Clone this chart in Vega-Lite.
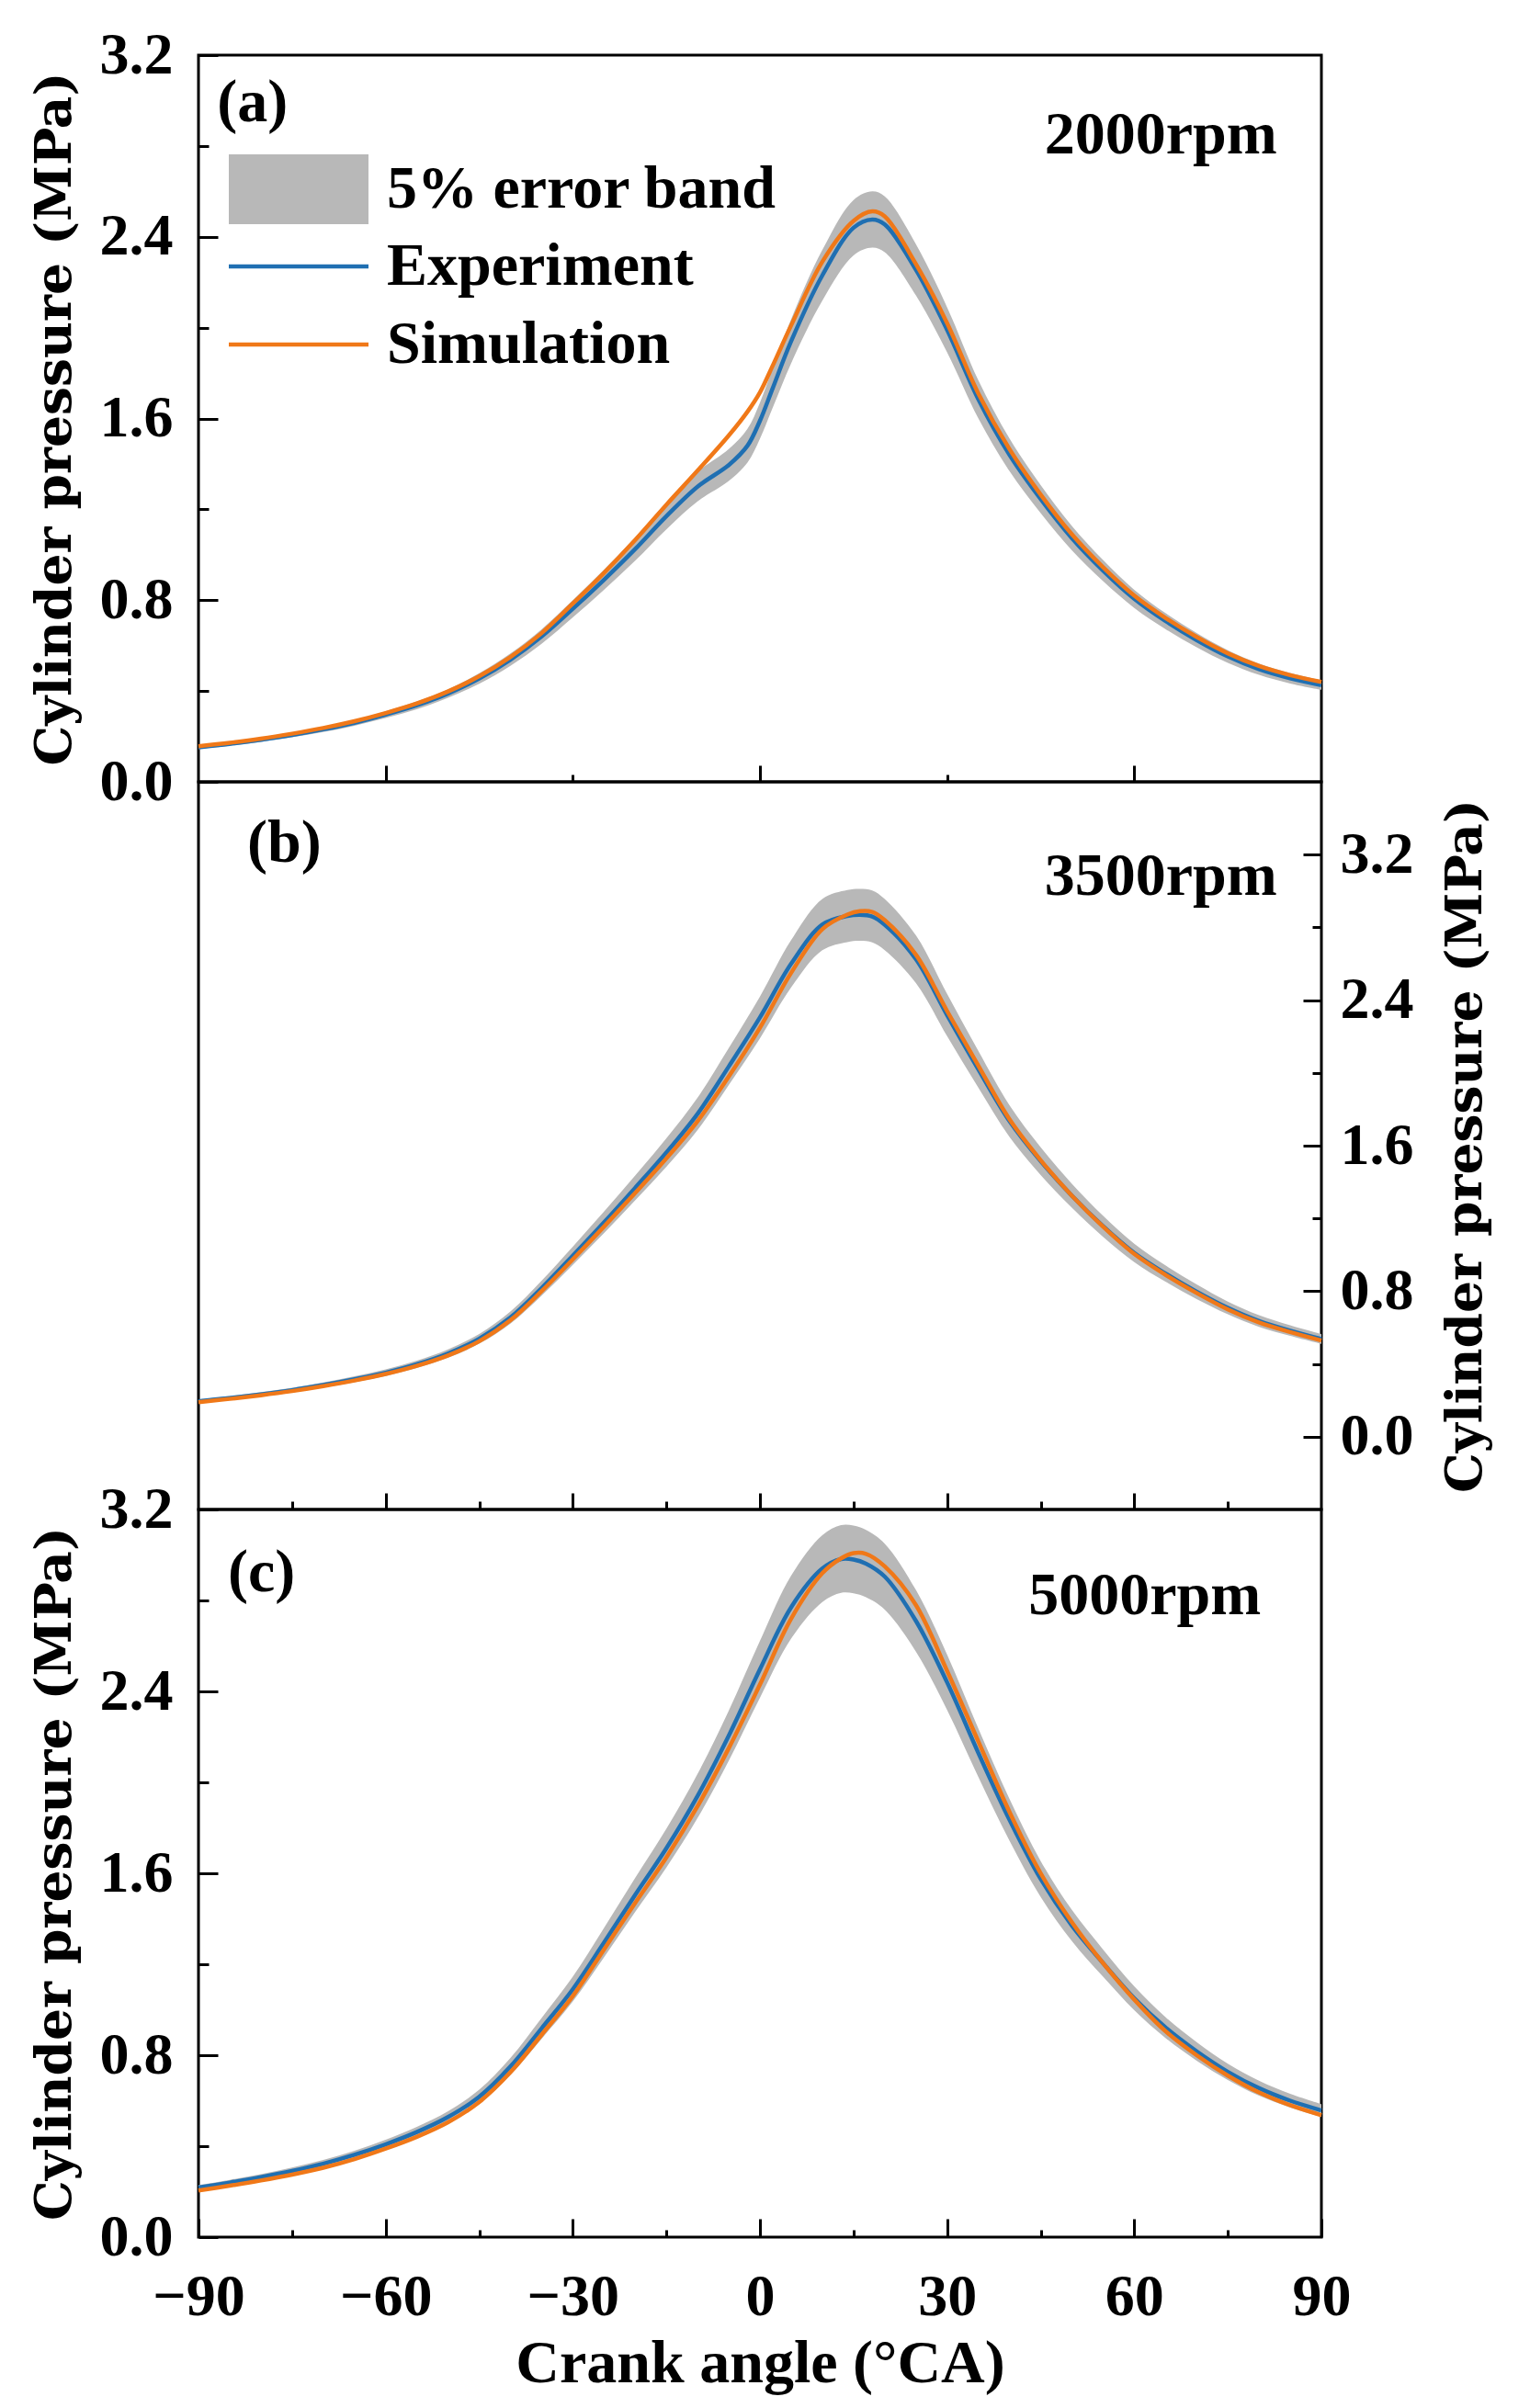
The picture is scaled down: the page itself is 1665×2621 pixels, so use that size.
{
  "$schema": "https://vega.github.io/schema/vega-lite/v6.json",
  "background": "white",
  "autosize": {"type": "pad"},
  "padding": {"left": 30, "top": 26, "right": 20, "bottom": 20},
  "spacing": 0,
  "bounds": "flush",
  "config": {
    "font": "Liberation Serif",
    "view": {"stroke": "black", "strokeWidth": 3},
    "axis": {
      "domain": false, "grid": false, "tickColor": "black", "tickWidth": 3,
      "labelFont": "Liberation Serif", "labelFontWeight": "bold", "labelFontSize": 64, "labelColor": "black",
      "labelFlush": false, "labelOverlap": false,
      "titleFont": "DejaVu Serif", "titleFontWeight": "bold", "titleFontSize": 55, "titleColor": "black"
    },
    "legend": {
      "labelFont": "Liberation Serif", "labelFontWeight": "bold", "labelFontSize": 66, "labelColor": "black", "labelLimit": 2000
    }
  },
  "datasets": {
    "pa": [
      {"x":-90,"exp":0.152,"sim":0.157,"lo":0.144,"hi":0.160},
      {"x":-85,"exp":0.167,"sim":0.172,"lo":0.159,"hi":0.175},
      {"x":-80,"exp":0.185,"sim":0.190,"lo":0.176,"hi":0.194},
      {"x":-75,"exp":0.206,"sim":0.212,"lo":0.196,"hi":0.216},
      {"x":-70,"exp":0.231,"sim":0.237,"lo":0.219,"hi":0.243},
      {"x":-65,"exp":0.260,"sim":0.267,"lo":0.247,"hi":0.273},
      {"x":-60,"exp":0.296,"sim":0.303,"lo":0.281,"hi":0.311},
      {"x":-55,"exp":0.337,"sim":0.345,"lo":0.320,"hi":0.354},
      {"x":-50,"exp":0.389,"sim":0.398,"lo":0.370,"hi":0.408},
      {"x":-45,"exp":0.455,"sim":0.465,"lo":0.432,"hi":0.478},
      {"x":-40,"exp":0.538,"sim":0.550,"lo":0.511,"hi":0.565},
      {"x":-35,"exp":0.640,"sim":0.655,"lo":0.608,"hi":0.672},
      {"x":-30,"exp":0.762,"sim":0.785,"lo":0.724,"hi":0.800},
      {"x":-25,"exp":0.890,"sim":0.920,"lo":0.846,"hi":0.935},
      {"x":-20,"exp":1.025,"sim":1.065,"lo":0.974,"hi":1.076},
      {"x":-15,"exp":1.170,"sim":1.220,"lo":1.112,"hi":1.229},
      {"x":-10,"exp":1.300,"sim":1.370,"lo":1.235,"hi":1.365},
      {"x":-5,"exp":1.395,"sim":1.525,"lo":1.325,"hi":1.465},
      {"x":-2,"exp":1.480,"sim":1.630,"lo":1.406,"hi":1.554},
      {"x":0,"exp":1.590,"sim":1.715,"lo":1.511,"hi":1.670},
      {"x":2,"exp":1.730,"sim":1.830,"lo":1.644,"hi":1.817},
      {"x":5,"exp":1.940,"sim":2.010,"lo":1.843,"hi":2.037},
      {"x":10,"exp":2.230,"sim":2.290,"lo":2.119,"hi":2.342},
      {"x":15,"exp":2.440,"sim":2.470,"lo":2.318,"hi":2.562},
      {"x":18,"exp":2.476,"sim":2.512,"lo":2.352,"hi":2.600},
      {"x":20,"exp":2.455,"sim":2.490,"lo":2.332,"hi":2.578},
      {"x":25,"exp":2.255,"sim":2.280,"lo":2.142,"hi":2.368},
      {"x":30,"exp":1.990,"sim":2.020,"lo":1.891,"hi":2.090},
      {"x":35,"exp":1.685,"sim":1.710,"lo":1.601,"hi":1.769},
      {"x":40,"exp":1.440,"sim":1.465,"lo":1.368,"hi":1.512},
      {"x":45,"exp":1.245,"sim":1.265,"lo":1.183,"hi":1.307},
      {"x":50,"exp":1.073,"sim":1.090,"lo":1.019,"hi":1.127},
      {"x":55,"exp":0.930,"sim":0.945,"lo":0.884,"hi":0.977},
      {"x":60,"exp":0.806,"sim":0.820,"lo":0.766,"hi":0.846},
      {"x":65,"exp":0.708,"sim":0.722,"lo":0.673,"hi":0.743},
      {"x":70,"exp":0.624,"sim":0.638,"lo":0.593,"hi":0.655},
      {"x":75,"exp":0.552,"sim":0.566,"lo":0.524,"hi":0.580},
      {"x":80,"exp":0.496,"sim":0.510,"lo":0.471,"hi":0.521},
      {"x":85,"exp":0.456,"sim":0.470,"lo":0.433,"hi":0.479},
      {"x":90,"exp":0.426,"sim":0.440,"lo":0.405,"hi":0.447}
    ],
    "pb": [
      {"x":-90,"exp":0.195,"sim":0.190,"lo":0.185,"hi":0.205},
      {"x":-85,"exp":0.213,"sim":0.208,"lo":0.202,"hi":0.224},
      {"x":-80,"exp":0.233,"sim":0.228,"lo":0.221,"hi":0.245},
      {"x":-75,"exp":0.256,"sim":0.251,"lo":0.243,"hi":0.269},
      {"x":-70,"exp":0.284,"sim":0.278,"lo":0.270,"hi":0.298},
      {"x":-65,"exp":0.316,"sim":0.309,"lo":0.300,"hi":0.332},
      {"x":-60,"exp":0.352,"sim":0.345,"lo":0.334,"hi":0.370},
      {"x":-55,"exp":0.398,"sim":0.390,"lo":0.378,"hi":0.418},
      {"x":-50,"exp":0.457,"sim":0.447,"lo":0.434,"hi":0.480},
      {"x":-45,"exp":0.538,"sim":0.525,"lo":0.511,"hi":0.565},
      {"x":-40,"exp":0.655,"sim":0.640,"lo":0.622,"hi":0.688},
      {"x":-35,"exp":0.817,"sim":0.800,"lo":0.776,"hi":0.858},
      {"x":-30,"exp":0.995,"sim":0.975,"lo":0.945,"hi":1.045},
      {"x":-25,"exp":1.178,"sim":1.155,"lo":1.119,"hi":1.237},
      {"x":-20,"exp":1.368,"sim":1.340,"lo":1.300,"hi":1.436},
      {"x":-15,"exp":1.562,"sim":1.530,"lo":1.484,"hi":1.640},
      {"x":-10,"exp":1.775,"sim":1.735,"lo":1.686,"hi":1.864},
      {"x":-5,"exp":2.035,"sim":1.980,"lo":1.933,"hi":2.137},
      {"x":0,"exp":2.305,"sim":2.248,"lo":2.190,"hi":2.420},
      {"x":5,"exp":2.600,"sim":2.550,"lo":2.470,"hi":2.730},
      {"x":10,"exp":2.815,"sim":2.790,"lo":2.674,"hi":2.956},
      {"x":14,"exp":2.862,"sim":2.870,"lo":2.719,"hi":3.005},
      {"x":16,"exp":2.869,"sim":2.889,"lo":2.726,"hi":3.012},
      {"x":18,"exp":2.860,"sim":2.885,"lo":2.717,"hi":3.003},
      {"x":20,"exp":2.815,"sim":2.840,"lo":2.674,"hi":2.956},
      {"x":25,"exp":2.625,"sim":2.650,"lo":2.494,"hi":2.756},
      {"x":30,"exp":2.318,"sim":2.340,"lo":2.202,"hi":2.434},
      {"x":35,"exp":2.020,"sim":2.040,"lo":1.919,"hi":2.121},
      {"x":40,"exp":1.735,"sim":1.745,"lo":1.648,"hi":1.822},
      {"x":45,"exp":1.515,"sim":1.520,"lo":1.439,"hi":1.591},
      {"x":50,"exp":1.325,"sim":1.325,"lo":1.259,"hi":1.391},
      {"x":55,"exp":1.157,"sim":1.155,"lo":1.099,"hi":1.215},
      {"x":60,"exp":1.010,"sim":1.005,"lo":0.960,"hi":1.061},
      {"x":65,"exp":0.897,"sim":0.890,"lo":0.852,"hi":0.942},
      {"x":70,"exp":0.797,"sim":0.790,"lo":0.757,"hi":0.837},
      {"x":75,"exp":0.708,"sim":0.700,"lo":0.673,"hi":0.743},
      {"x":80,"exp":0.636,"sim":0.628,"lo":0.604,"hi":0.668},
      {"x":85,"exp":0.583,"sim":0.575,"lo":0.554,"hi":0.612},
      {"x":90,"exp":0.537,"sim":0.529,"lo":0.510,"hi":0.564}
    ],
    "pc": [
      {"x":-90,"exp":0.218,"sim":0.205,"lo":0.207,"hi":0.229},
      {"x":-85,"exp":0.240,"sim":0.226,"lo":0.228,"hi":0.252},
      {"x":-80,"exp":0.264,"sim":0.249,"lo":0.251,"hi":0.277},
      {"x":-75,"exp":0.291,"sim":0.275,"lo":0.276,"hi":0.306},
      {"x":-70,"exp":0.323,"sim":0.305,"lo":0.307,"hi":0.339},
      {"x":-65,"exp":0.362,"sim":0.343,"lo":0.344,"hi":0.380},
      {"x":-60,"exp":0.408,"sim":0.389,"lo":0.388,"hi":0.428},
      {"x":-55,"exp":0.462,"sim":0.441,"lo":0.439,"hi":0.485},
      {"x":-50,"exp":0.528,"sim":0.505,"lo":0.502,"hi":0.554},
      {"x":-45,"exp":0.617,"sim":0.594,"lo":0.586,"hi":0.648},
      {"x":-40,"exp":0.750,"sim":0.725,"lo":0.713,"hi":0.788},
      {"x":-35,"exp":0.918,"sim":0.890,"lo":0.872,"hi":0.964},
      {"x":-30,"exp":1.090,"sim":1.060,"lo":1.036,"hi":1.145},
      {"x":-25,"exp":1.295,"sim":1.265,"lo":1.230,"hi":1.360},
      {"x":-20,"exp":1.505,"sim":1.470,"lo":1.430,"hi":1.580},
      {"x":-15,"exp":1.710,"sim":1.670,"lo":1.625,"hi":1.796},
      {"x":-10,"exp":1.940,"sim":1.895,"lo":1.843,"hi":2.037},
      {"x":-5,"exp":2.205,"sim":2.150,"lo":2.095,"hi":2.315},
      {"x":0,"exp":2.497,"sim":2.430,"lo":2.372,"hi":2.622},
      {"x":5,"exp":2.770,"sim":2.720,"lo":2.632,"hi":2.909},
      {"x":10,"exp":2.940,"sim":2.920,"lo":2.793,"hi":3.087},
      {"x":13,"exp":2.982,"sim":2.985,"lo":2.833,"hi":3.131},
      {"x":15,"exp":2.980,"sim":3.008,"lo":2.831,"hi":3.129},
      {"x":17,"exp":2.962,"sim":3.005,"lo":2.814,"hi":3.110},
      {"x":20,"exp":2.905,"sim":2.950,"lo":2.760,"hi":3.050},
      {"x":25,"exp":2.710,"sim":2.780,"lo":2.575,"hi":2.846},
      {"x":30,"exp":2.440,"sim":2.490,"lo":2.318,"hi":2.562},
      {"x":35,"exp":2.130,"sim":2.180,"lo":2.024,"hi":2.237},
      {"x":40,"exp":1.835,"sim":1.870,"lo":1.743,"hi":1.927},
      {"x":45,"exp":1.575,"sim":1.600,"lo":1.496,"hi":1.654},
      {"x":50,"exp":1.370,"sim":1.385,"lo":1.302,"hi":1.439},
      {"x":55,"exp":1.205,"sim":1.205,"lo":1.145,"hi":1.265},
      {"x":60,"exp":1.050,"sim":1.045,"lo":0.998,"hi":1.103},
      {"x":65,"exp":0.922,"sim":0.906,"lo":0.876,"hi":0.968},
      {"x":70,"exp":0.817,"sim":0.800,"lo":0.776,"hi":0.858},
      {"x":75,"exp":0.727,"sim":0.710,"lo":0.691,"hi":0.763},
      {"x":80,"exp":0.655,"sim":0.636,"lo":0.622,"hi":0.688},
      {"x":85,"exp":0.600,"sim":0.580,"lo":0.570,"hi":0.630},
      {"x":90,"exp":0.557,"sim":0.536,"lo":0.529,"hi":0.585}
    ]
  },
  "vconcat": [
    {
      "width": 1222, "height": 791,
      "data": {"name": "pa"},
      "layer": [
        {
          "mark": {"type": "area", "interpolate": "catmull-rom", "opacity": 1},
          "encoding": {
            "x": {"field": "x", "type": "quantitative", "scale": {"domain": [-90, 90], "nice": false},
                  "axis": {"orient": "bottom", "values": [-60, 0, 60], "tickSize": -18, "labels": false, "title": null}},
            "y": {"field": "lo", "type": "quantitative", "scale": {"domain": [0, 3.2], "nice": false, "zero": false},
                  "axis": {"orient": "left", "values": [0, 0.8, 1.6, 2.4, 3.2], "format": ".1f", "tickSize": -21, "labelPadding": 49,
                           "title": "Cylinder pressure (MPa)", "titlePadding": 20}},
            "y2": {"field": "hi"},
            "fill": {
              "datum": "5% error band",
              "scale": {"domain": ["5% error band"], "range": ["#b8b8b8"]},
              "legend": {
                "orient": "none", "legendX": 76, "legendY": 113, "title": null, "padding": 0,
                "symbolType": "M-3,-1.5H3V1.5H-3Z", "symbolSize": 2567, "symbolStrokeWidth": 0, "symbolOpacity": 1,
                "labelOffset": 63
              }
            }
          }
        },
        {
          "mark": {"type": "line", "interpolate": "catmull-rom", "strokeWidth": 4.5},
          "encoding": {
            "x": {"field": "x", "type": "quantitative",
                  "axis": {"orient": "bottom", "values": [-30, 30], "tickSize": -8, "labels": false, "title": null}},
            "y": {"field": "exp", "type": "quantitative",
                  "axis": {"orient": "left", "values": [0.4, 1.2, 2.0, 2.8], "tickSize": -11, "labels": false, "title": null}},
            "stroke": {
              "datum": "Experiment",
              "scale": {"domain": ["Experiment", "Simulation"], "range": ["#1f6fb2", "#f07818"]},
              "legend": {
                "orient": "none", "legendX": 76, "legendY": 197, "title": null, "padding": 0,
                "symbolType": "M-3,0H3", "symbolSize": 2567, "symbolStrokeWidth": 4.5, "symbolFillColor": "transparent",
                "labelOffset": 63, "rowPadding": 19
              }
            }
          }
        },
        {
          "mark": {"type": "line", "interpolate": "catmull-rom", "strokeWidth": 4.5},
          "encoding": {
            "x": {"field": "x", "type": "quantitative", "axis": null},
            "y": {"field": "sim", "type": "quantitative", "axis": null},
            "stroke": {"datum": "Simulation"}
          }
        },
        {
          "data": {"values": [{"tag": "(a)"}]},
          "mark": {"type": "text", "align": "left", "baseline": "middle", "font": "Liberation Serif", "fontWeight": "bold", "fontSize": 66, "color": "black"},
          "encoding": {
            "x": {"datum": -87, "type": "quantitative", "axis": null},
            "y": {"datum": 2.99, "type": "quantitative", "axis": null},
            "text": {"field": "tag"}
          }
        },
        {
          "data": {"values": [{"rpm": "2000rpm"}]},
          "mark": {"type": "text", "align": "right", "baseline": "middle", "font": "Liberation Serif", "fontWeight": "bold", "fontSize": 66, "color": "black"},
          "encoding": {
            "x": {"datum": 82.9, "type": "quantitative", "axis": null},
            "y": {"datum": 2.85, "type": "quantitative", "axis": null},
            "text": {"field": "rpm"}
          }
        }
      ],
      "resolve": {"axis": {"x": "independent", "y": "independent"}}
    },
    {
      "width": 1222, "height": 792,
      "data": {"name": "pb"},
      "layer": [
        {
          "mark": {"type": "area", "interpolate": "catmull-rom", "opacity": 1},
          "encoding": {
            "x": {"field": "x", "type": "quantitative", "scale": {"domain": [-90, 90], "nice": false},
                  "axis": {"orient": "bottom", "values": [-60, -30, 0, 30, 60], "tickSize": -18, "labels": false, "title": null}},
            "y": {"field": "lo", "type": "quantitative", "scale": {"domain": [-0.4, 3.6], "nice": false, "zero": false},
                  "axis": {"orient": "right", "values": [0, 0.8, 1.6, 2.4, 3.2], "format": ".1f", "tickSize": -20, "labelPadding": 40,
                           "title": "Cylinder pressure (MPa)", "titlePadding": 30, "titleAngle": 270, "titleBaseline": "top"}},
            "y2": {"field": "hi"},
            "fill": {"datum": "5% error band"}
          }
        },
        {
          "mark": {"type": "line", "interpolate": "catmull-rom", "strokeWidth": 4.5},
          "encoding": {
            "x": {"field": "x", "type": "quantitative",
                  "axis": {"orient": "bottom", "values": [-75, -45, -15, 15, 45, 75], "tickSize": -9, "labels": false, "title": null}},
            "y": {"field": "exp", "type": "quantitative",
                  "axis": {"orient": "right", "values": [0.4, 1.2, 2.0, 2.8], "tickSize": -10, "labels": false, "title": null}},
            "stroke": {"datum": "Experiment"}
          }
        },
        {
          "mark": {"type": "line", "interpolate": "catmull-rom", "strokeWidth": 4.5},
          "encoding": {
            "x": {"field": "x", "type": "quantitative", "axis": null},
            "y": {"field": "sim", "type": "quantitative", "axis": null},
            "stroke": {"datum": "Simulation"}
          }
        },
        {
          "data": {"values": [{"tag": "(b)"}]},
          "mark": {"type": "text", "align": "left", "baseline": "middle", "font": "Liberation Serif", "fontWeight": "bold", "fontSize": 66, "color": "black"},
          "encoding": {
            "x": {"datum": -82.2, "type": "quantitative", "axis": null},
            "y": {"datum": 3.26, "type": "quantitative", "axis": null},
            "text": {"field": "tag"}
          }
        },
        {
          "data": {"values": [{"rpm": "3500rpm"}]},
          "mark": {"type": "text", "align": "right", "baseline": "middle", "font": "Liberation Serif", "fontWeight": "bold", "fontSize": 66, "color": "black"},
          "encoding": {
            "x": {"datum": 82.9, "type": "quantitative", "axis": null},
            "y": {"datum": 3.08, "type": "quantitative", "axis": null},
            "text": {"field": "rpm"}
          }
        }
      ],
      "resolve": {"axis": {"x": "independent", "y": "independent"}}
    },
    {
      "width": 1222, "height": 792,
      "data": {"name": "pc"},
      "layer": [
        {
          "mark": {"type": "area", "interpolate": "catmull-rom", "opacity": 1},
          "encoding": {
            "x": {"field": "x", "type": "quantitative", "scale": {"domain": [-90, 90], "nice": false},
                  "axis": {"orient": "bottom", "values": [-90, -60, -30, 0, 30, 60, 90], "tickSize": -20, "labelPadding": 53,
                           "title": "Crank angle (°CA)", "titleFont": "Liberation Serif", "titleFontSize": 66, "titlePadding": 8}},
            "y": {"field": "lo", "type": "quantitative", "scale": {"domain": [0, 3.2], "nice": false, "zero": false},
                  "axis": {"orient": "left", "values": [0, 0.8, 1.6, 2.4, 3.2], "format": ".1f", "tickSize": -21, "labelPadding": 49,
                           "title": "Cylinder pressure (MPa)", "titlePadding": 20}},
            "y2": {"field": "hi"},
            "fill": {"datum": "5% error band"}
          }
        },
        {
          "mark": {"type": "line", "interpolate": "catmull-rom", "strokeWidth": 4.5},
          "encoding": {
            "x": {"field": "x", "type": "quantitative",
                  "axis": {"orient": "bottom", "values": [-75, -45, -15, 15, 45, 75], "tickSize": -8, "labels": false, "title": null}},
            "y": {"field": "exp", "type": "quantitative",
                  "axis": {"orient": "left", "values": [0.4, 1.2, 2.0, 2.8], "tickSize": -11, "labels": false, "title": null}},
            "stroke": {"datum": "Experiment"}
          }
        },
        {
          "mark": {"type": "line", "interpolate": "catmull-rom", "strokeWidth": 4.5},
          "encoding": {
            "x": {"field": "x", "type": "quantitative", "axis": null},
            "y": {"field": "sim", "type": "quantitative", "axis": null},
            "stroke": {"datum": "Simulation"}
          }
        },
        {
          "data": {"values": [{"tag": "(c)"}]},
          "mark": {"type": "text", "align": "left", "baseline": "middle", "font": "Liberation Serif", "fontWeight": "bold", "fontSize": 66, "color": "black"},
          "encoding": {
            "x": {"datum": -85.3, "type": "quantitative", "axis": null},
            "y": {"datum": 2.92, "type": "quantitative", "axis": null},
            "text": {"field": "tag"}
          }
        },
        {
          "data": {"values": [{"rpm": "5000rpm"}]},
          "mark": {"type": "text", "align": "right", "baseline": "middle", "font": "Liberation Serif", "fontWeight": "bold", "fontSize": 66, "color": "black"},
          "encoding": {
            "x": {"datum": 80.3, "type": "quantitative", "axis": null},
            "y": {"datum": 2.82, "type": "quantitative", "axis": null},
            "text": {"field": "rpm"}
          }
        }
      ],
      "resolve": {"axis": {"x": "independent", "y": "independent"}}
    }
  ]
}
